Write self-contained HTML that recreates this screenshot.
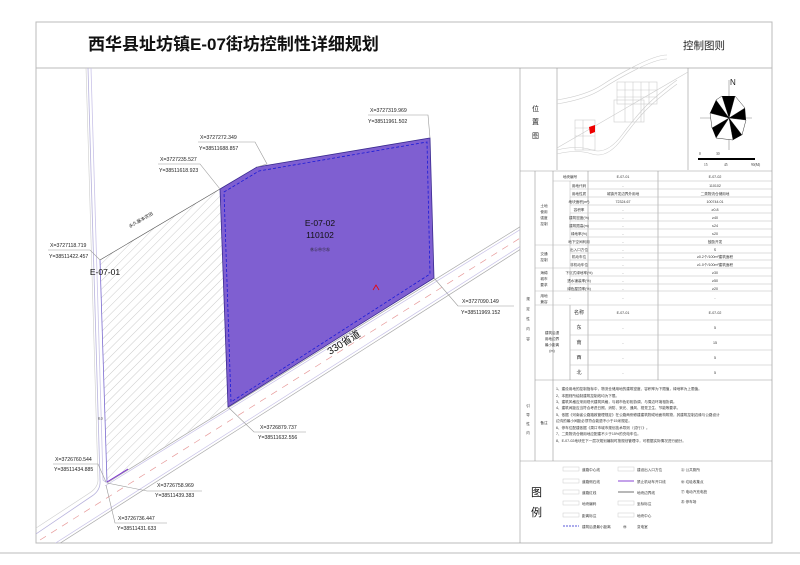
<!DOCTYPE html>
<html><head><meta charset="utf-8"><style>
html,body{margin:0;padding:0;background:#fff}
svg{display:block}
text{font-family:"Liberation Sans","Noto Sans CJK SC",sans-serif}
.s{font-family:"Liberation Serif","Noto Serif CJK SC",serif;font-size:5.2px;fill:#222}
.t{font-family:"Liberation Serif","Noto Serif CJK SC",serif;font-size:3.6px;fill:#333}
.g{stroke:#999;stroke-width:0.6;fill:none}
</style></head><body>
<svg width="800" height="565" viewBox="0 0 800 565" xmlns="http://www.w3.org/2000/svg">
<defs>
<pattern id="h" patternUnits="userSpaceOnUse" width="6" height="6" patternTransform="rotate(45)">
<line x1="0" y1="0" x2="0" y2="6" stroke="#aaa" stroke-width="0.6"/>
</pattern>
<clipPath id="mc"><rect x="36" y="68" width="484" height="475"/></clipPath>
</defs>
<rect x="0" y="0" width="800" height="565" fill="#fff"/>
<rect x="36" y="22" width="736" height="521" fill="none" stroke="#bbb" stroke-width="1"/>
<line x1="36" y1="68" x2="772" y2="68" stroke="#bbb"/>
<line x1="0" y1="553" x2="800" y2="553" stroke="#ddd" stroke-width="2"/>
<text x="88" y="50" font-size="17" fill="#111" font-weight="bold">西华县址坊镇E-07街坊控制性详细规划</text>
<text x="683" y="49" font-size="10.5" fill="#222">控制图则</text>

<g clip-path="url(#mc)">
<polygon points="220,189 100,260 107,482 228,407" fill="url(#h)"/>
<line x1="220" y1="189" x2="100" y2="260" stroke="#555" stroke-width="0.6"/>
<path d="M88,68 L100,480 Q101,490 92,496 L30,538" fill="none" stroke="#b8b3dd" stroke-width="0.8"/>
<path d="M91,68 L103,480 L107,483" fill="none" stroke="#c9c3e8" stroke-width="0.8"/>
<path d="M86,68 L98,480 Q98,488 88,494 L30,532" fill="none" stroke="#ccc" stroke-width="0.6"/>
<line x1="100" y1="260" x2="107" y2="482" stroke="#7b6bd0" stroke-width="0.8"/>
<line x1="107" y1="483" x2="560" y2="202" stroke="#aaa" stroke-width="0.7"/>
<line x1="105" y1="486" x2="560" y2="205" stroke="#c8c2e8" stroke-width="0.7"/>
<line x1="40" y1="556" x2="560" y2="224" stroke="#aaa" stroke-width="0.7"/>
<line x1="40" y1="553" x2="560" y2="221" stroke="#c8c2e8" stroke-width="0.7"/>
<line x1="40" y1="540" x2="560" y2="213" stroke="#e79a9a" stroke-width="0.7" stroke-dasharray="7,6"/>
<line x1="107" y1="482" x2="128" y2="469" stroke="#7b2fd0" stroke-width="1"/>
<polygon points="220,189 257,167 430,138 434,278 228,407" fill="#7f5fd1" stroke="#3a2a90" stroke-width="0.8"/>
<polygon points="224,192 259,171 427,142 430,274 231,402" fill="none" stroke="#1a1ad8" stroke-width="0.8" stroke-dasharray="3,2"/>
</g>
<text x="320" y="226" font-size="8.5" text-anchor="middle" fill="#111">E-07-02</text>
<text x="320" y="238" font-size="8.5" text-anchor="middle" fill="#111">110102</text>
<text x="320" y="251" font-size="4" text-anchor="middle" fill="#222">㊡㊤㊥㊦㊧</text>
<text x="105" y="275" font-size="8.5" text-anchor="middle" fill="#111">E-07-01</text>
<text x="130" y="228" font-size="4.5" fill="#222" transform="rotate(-30 130 228)">永久基本农田</text>
<text x="330" y="355" font-size="10" fill="#111" transform="rotate(-32 330 355)">330省道</text>
<text x="98" y="420" class="t">8.0</text>
<path d="M373,290 l3,-5 l3,5" fill="none" stroke="#e00" stroke-width="0.8"/>

<g class="s">
<text x="370" y="112">X=3727319.969</text><text x="368" y="123">Y=38511961.502</text>
<text x="200" y="139">X=3727272.349</text><text x="199" y="150">Y=38511688.857</text>
<text x="160" y="161">X=3727235.527</text><text x="159" y="172">Y=38511618.923</text>
<text x="50" y="247">X=3727118.719</text><text x="49" y="258">Y=38511422.457</text>
<text x="462" y="303">X=3727090.149</text><text x="461" y="314">Y=38511969.152</text>
<text x="260" y="429">X=3726879.737</text><text x="258" y="439">Y=38511632.556</text>
<text x="55" y="461">X=3726760.544</text><text x="54" y="471">Y=38511434.885</text>
<text x="157" y="487">X=3726758.969</text><text x="155" y="497">Y=38511439.383</text>
<text x="118" y="520">X=3726736.447</text><text x="117" y="530">Y=38511431.633</text>
</g>
<g class="g">
<path d="M368,115 h60 L430,138"/><path d="M198,142 h57 l12,22 L257,167"/>
<path d="M158,164 h42 L220,189"/><path d="M48,250 h42 L100,260"/>
<path d="M434,278 L458,306 h56"/><path d="M228,407 L254,432 h52"/>
<path d="M53,464 h45 l8,18"/><path d="M107,483 l40,8 h55"/>
<path d="M106,485 L115,523 h52"/>
</g>

<g stroke="#999" stroke-width="0.6" fill="none">
<line x1="520" y1="68" x2="520" y2="543"/>
<line x1="557" y1="68" x2="557" y2="170"/>
<line x1="688" y1="68" x2="688" y2="170"/>
<line x1="520" y1="171" x2="772" y2="171"/>
<line x1="535" y1="171" x2="535" y2="461"/>
<line x1="553" y1="171" x2="553" y2="461"/>
<line x1="588" y1="171" x2="588" y2="380"/>
<line x1="658" y1="171" x2="658" y2="380"/>
<line x1="570" y1="305" x2="570" y2="380"/>
<line x1="520" y1="461" x2="772" y2="461"/>
<line x1="535" y1="380" x2="772" y2="380"/>
</g>
<g stroke="#bbb" stroke-width="0.5">
<line x1="553" y1="181" x2="772" y2="181"/>
<line x1="570" y1="189" x2="772" y2="189"/><line x1="570" y1="197" x2="772" y2="197"/>
<line x1="570" y1="205" x2="772" y2="205"/><line x1="570" y1="213" x2="772" y2="213"/>
<line x1="570" y1="221" x2="772" y2="221"/><line x1="570" y1="229" x2="772" y2="229"/>
<line x1="570" y1="237" x2="772" y2="237"/>
<line x1="535" y1="245" x2="772" y2="245"/>
<line x1="570" y1="253" x2="772" y2="253"/><line x1="570" y1="260" x2="772" y2="260"/>
<line x1="535" y1="268" x2="772" y2="268"/>
<line x1="570" y1="276" x2="772" y2="276"/><line x1="570" y1="284" x2="772" y2="284"/>
<line x1="535" y1="291" x2="772" y2="291"/>
<line x1="535" y1="305" x2="772" y2="305"/>
<line x1="570" y1="320" x2="772" y2="320"/><line x1="570" y1="335" x2="772" y2="335"/>
<line x1="570" y1="350" x2="772" y2="350"/><line x1="570" y1="365" x2="772" y2="365"/>
<line x1="570" y1="181" x2="570" y2="291"/>
</g>
<text x="532" y="111" font-size="7" fill="#222">位</text>
<text x="532" y="124" font-size="7" fill="#222">置</text>
<text x="532" y="138" font-size="7" fill="#222">图</text>
<g fill="none" stroke="#ccc" stroke-width="0.6">
<path d="M557,100 q30,-5 45,-15 t35,-20 t30,-10"/><path d="M557,104 q30,-5 45,-15 t35,-20 t30,-10"/>
<path d="M557,150 q20,-5 35,0 t30,-15 t25,-30 t30,-25"/><path d="M557,154 q20,-5 35,0 t30,-15 t25,-30 t30,-25"/>
<line x1="557" y1="148" x2="688" y2="72"/>
<rect x="617" y="82" width="40" height="22"/><rect x="614" y="100" width="30" height="22"/>
<path d="M617,90h40M617,97h40M625,82v40M633,82v40M641,82v40M649,82v22"/>
<rect x="575" y="120" width="20" height="30"/><path d="M575,128h20M575,136h20M583,120v30"/>
</g>
<polygon points="589,127 595,125 595,132 590,134" fill="#e00"/>
<g>
<line x1="700" y1="118" x2="752" y2="118" stroke="#888" stroke-width="0.6"/>
<line x1="729" y1="80" x2="729" y2="150" stroke="#888" stroke-width="0.6"/>
<path d="M729,118 L722,96 L735,96Z M729,118 L745,108 L746,120Z M729,118 L742,135 L733,140Z M729,118 L716,138 L712,128Z M729,118 L710,113 L716,100Z" fill="#000"/>
<path d="M729,118 L735,96 L745,108Z M729,118 L746,120 L742,135Z M729,118 L733,140 L716,138Z M729,118 L712,128 L710,113Z M729,118 L716,100 L722,96Z" fill="#fff" stroke="#000" stroke-width="0.4"/>
<text x="730" y="85" font-size="8" fill="#222" font-family="Liberation Serif">N</text>
<rect x="698" y="158" width="57" height="2" fill="#000"/>
<text x="699" y="155" class="t">0</text><text x="716" y="155" class="t">30</text>
<text x="704" y="166" class="t">15</text><text x="724" y="166" class="t">45</text><text x="751" y="166" class="t">90(M)</text>
</g>
<g class="t" text-anchor="middle">
<text x="570" y="178">地块编号</text><text x="623" y="178">E-07-01</text><text x="715" y="178">E-07-02</text>
<text x="579" y="187">用地代码</text><text x="623" y="187">-</text><text x="715" y="187">110102</text>
<text x="579" y="195">用地性质</text><text x="623" y="195">城镇开发边界外用地</text><text x="715" y="195">二类物流仓储用地</text>
<text x="579" y="203">地块面积(m²)</text><text x="623" y="203">72324.67</text><text x="715" y="203">100744.01</text>
<text x="579" y="211">容积率</text><text x="623" y="211">-</text><text x="715" y="211">≥0.8</text>
<text x="579" y="219">建筑密度(%)</text><text x="623" y="219">-</text><text x="715" y="219">≥40</text>
<text x="579" y="227">建筑限高(m)</text><text x="623" y="227">-</text><text x="715" y="227">≤24</text>
<text x="579" y="235">绿地率(%)</text><text x="623" y="235">-</text><text x="715" y="235">≤20</text>
<text x="579" y="243">地下空间利用</text><text x="623" y="243">-</text><text x="715" y="243">鼓励开发</text>
<text x="579" y="251">出入口方位</text><text x="623" y="251">-</text><text x="715" y="251">S</text>
<text x="579" y="258">机动车位</text><text x="623" y="258">-</text><text x="715" y="258">≥0.2个/100m²建筑面积</text>
<text x="579" y="266">非机动车位</text><text x="623" y="266">-</text><text x="715" y="266">≥1.0个/100m²建筑面积</text>
<text x="579" y="274">下沉式绿地率(%)</text><text x="623" y="274">-</text><text x="715" y="274">≥30</text>
<text x="579" y="282">透水铺装率(%)</text><text x="623" y="282">-</text><text x="715" y="282">≥50</text>
<text x="579" y="290">绿色屋顶率(%)</text><text x="623" y="290">-</text><text x="715" y="290">≥20</text>
<text x="570" y="299">-</text><text x="623" y="299">-</text><text x="715" y="299">-</text>
<text x="579" y="314" font-size="5">名称</text><text x="623" y="314">E-07-01</text><text x="715" y="314">E-07-02</text>
<text x="579" y="329" font-size="5">东</text><text x="623" y="329">-</text><text x="715" y="329">5</text>
<text x="579" y="344" font-size="5">南</text><text x="623" y="344">-</text><text x="715" y="344">15</text>
<text x="579" y="359" font-size="5">西</text><text x="623" y="359">-</text><text x="715" y="359">5</text>
<text x="579" y="374" font-size="5">北</text><text x="623" y="374">-</text><text x="715" y="374">5</text>
<text x="544" y="207">土地</text><text x="544" y="213">使用</text><text x="544" y="219">强度</text><text x="544" y="225">控制</text>
<text x="544" y="255">交通</text><text x="544" y="261">控制</text>
<text x="544" y="274">海绵</text><text x="544" y="280">城市</text><text x="544" y="286">要求</text>
<text x="544" y="297">用地</text><text x="544" y="303">兼容</text>
<text x="552" y="334">建筑后退</text><text x="552" y="340">用地边界</text><text x="552" y="346">最小距离</text><text x="552" y="352">(m)</text>
<text x="544" y="424">备注</text>
<text x="528" y="300">规</text><text x="528" y="310">定</text><text x="528" y="320">性</text><text x="528" y="330">内</text><text x="528" y="340">容</text>
<text x="528" y="407">引</text><text x="528" y="416">导</text><text x="528" y="425">性</text><text x="528" y="434">内</text>
</g>
<g class="t" font-size="3.7">
<text x="556" y="390">1、建设用地的控制指标中，物流仓储用地的建筑密度、容积率为下限值，绿地率为上限值。</text>
<text x="556" y="397">2、本图则所绘制建筑控制线均为下限。</text>
<text x="556" y="403">3、建筑风格应采用现代建筑风格，与城市色彩相协调，与周边环境相协调。</text>
<text x="556" y="409">4、建筑间距应当符合考虑日照、消防、采光、通风、视觉卫生、节能等要求。</text>
<text x="556" y="416">5、依据《河南省公路路政管理规定》在公路两侧修建建筑物或地面构筑物，其建筑控制边缘与公路设计</text>
<text x="556" y="422">边沟的最小间距必须符合能退不小于15米规定。</text>
<text x="556" y="429">6、停车位配建依据《周口市城市规划技术导则（试行）》。</text>
<text x="556" y="435">7、二类物流仓储用地应配建不少于15%的充电车位。</text>
<text x="556" y="442">8、E-07-02地块在下一层次规划编制时按规划管理中，可根据实际情况进行细分。</text>
</g>
<text x="531" y="496" font-size="11" fill="#111">图</text>
<text x="531" y="516" font-size="11" fill="#111">例</text>
<g class="t" font-size="3.8">
<rect x="563" y="467" width="16" height="4" fill="none" stroke="#ccc" stroke-width="0.5"/><text x="582" y="471">道路中心线</text>
<rect x="563" y="479" width="16" height="4" fill="none" stroke="#ccc" stroke-width="0.5"/><text x="582" y="483">道路侧石线</text>
<rect x="563" y="490" width="16" height="4" fill="none" stroke="#ccc" stroke-width="0.5"/><text x="582" y="494">道路红线</text>
<rect x="563" y="501" width="16" height="4" fill="none" stroke="#ccc" stroke-width="0.5"/><text x="582" y="505">地块编码</text>
<rect x="563" y="513" width="16" height="4" fill="none" stroke="#ccc" stroke-width="0.5"/><text x="582" y="517">距离标注</text>
<line x1="563" y1="526" x2="579" y2="526" stroke="#22c" stroke-width="0.8" stroke-dasharray="2,1"/><text x="582" y="528">建筑后退最小距离</text>
<rect x="618" y="467" width="16" height="4" fill="none" stroke="#ccc" stroke-width="0.5"/><text x="637" y="471">建设出入口方位</text>
<line x1="618" y1="481" x2="634" y2="481" stroke="#7b2fd0" stroke-width="0.9"/><text x="637" y="483">禁止机动车开口线</text>
<line x1="618" y1="492" x2="634" y2="492" stroke="#999" stroke-width="1.4"/><text x="637" y="494">地块边界线</text>
<rect x="618" y="501" width="16" height="4" fill="none" stroke="#ccc" stroke-width="0.5"/><text x="637" y="505">坐标标注</text>
<rect x="618" y="513" width="16" height="4" fill="none" stroke="#ccc" stroke-width="0.5"/><text x="637" y="517">地块中心</text>
<text x="623" y="528">㊡</text><text x="637" y="528">变电室</text>
<text x="681" y="471">㊤ 公共厕所</text>
<text x="681" y="483">㊥ 垃圾收集点</text>
<text x="681" y="493">㊦ 电动汽充电桩</text>
<text x="681" y="503">㊧ 停车场</text>
</g>
</svg>
</body></html>
